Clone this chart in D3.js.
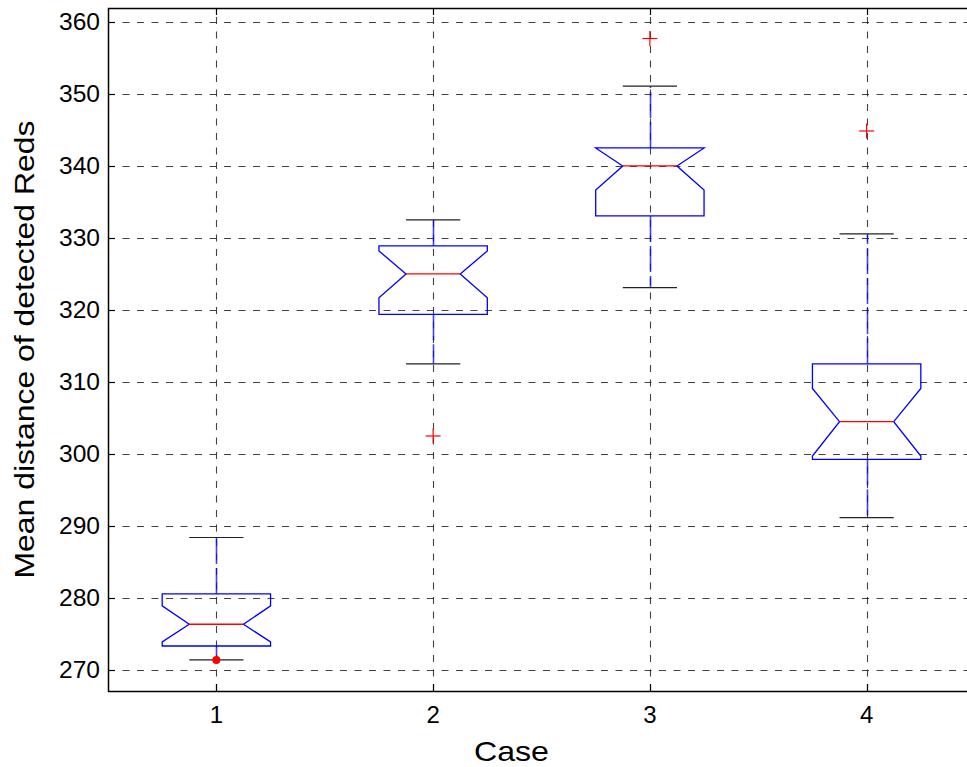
<!DOCTYPE html>
<html><head><meta charset="utf-8">
<script src="https://cdn.jsdelivr.net/npm/d3@7"></script>
<style>html,body{margin:0;padding:0;background:#fff;overflow:hidden}svg{display:block}</style>
</head><body>
<script>
const cases = [1, 2, 3, 4];
const q1 = [273.33, 319.4, 333.06, 299.26];
const q3 = [280.56, 328.89, 342.5, 312.5];
const medians = [276.35, 325.0, 340.0, 304.49];
const notchLo = [273.9, 321.7, 336.67, 299.72];
const notchHi = [278.9, 328.2, 342.5, 309.1];
const whiskerLo = [271.39, 312.5, 323.1, 291.15];
const whiskerHi = [288.4, 332.5, 351.1, 330.56];
const outlierCase = [2, 3, 4];
const outlierValue = [302.5, 357.7, 344.86];
const dotCase = [1];
const dotValue = [271.39];
const yTicks = [270, 280, 290, 300, 310, 320, 330, 340, 350, 360];
const xLabel = "Case";
const yLabel = "Mean distance of detected Reds";

const W = 967, H = 767;
const L = 108, R = 975, T = 8, B = 691;
const svg = d3.select("body").append("svg").attr("width", W).attr("height", H);
const x = d3.scaleLinear().domain([0.5, 4.5]).range([L, R]);
const y = d3.scaleLinear().domain([267.08, 361.94]).range([B, T]);
const font = "'Liberation Sans', Arial, sans-serif";

// grid
const grid = svg.append("g").attr("stroke", "#222").attr("stroke-width", 1.1).attr("stroke-dasharray", "7,7.5").attr("fill", "none");
yTicks.forEach(v => grid.append("line").attr("x1", L).attr("x2", R).attr("y1", Math.round(y(v)) + 0.5).attr("y2", Math.round(y(v)) + 0.5).attr("stroke-opacity", 0.85));
cases.forEach(c => grid.append("line").attr("x1", Math.round(x(c)) + 0.5).attr("x2", Math.round(x(c)) + 0.5).attr("y1", B).attr("y2", T).attr("stroke-opacity", 0.85));

const hw = 0.25, nw = 0.125, cw = 0.125;
const g = svg.append("g");
cases.forEach((c, i) => {
  const xc = Math.round(x(c)) + 0.5;
  // whiskers
  g.append("line").attr("x1", xc).attr("x2", xc).attr("y1", y(q3[i])).attr("y2", y(whiskerHi[i]))
    .attr("stroke", "#0000ff").attr("stroke-opacity", 0.75).attr("stroke-width", 1.6).attr("stroke-dasharray", "26,4");
  g.append("line").attr("x1", xc).attr("x2", xc).attr("y1", y(q1[i])).attr("y2", y(whiskerLo[i]))
    .attr("stroke", "#0000ff").attr("stroke-opacity", 0.75).attr("stroke-width", 1.6).attr("stroke-dasharray", "26,4");
  // caps
  [whiskerHi[i], whiskerLo[i]].forEach(v => {
    g.append("line").attr("x1", x(c - cw)).attr("x2", x(c + cw)).attr("y1", y(v)).attr("y2", y(v))
      .attr("stroke", "#222").attr("stroke-width", 1.2);
  });
  // notched box
  const pts = [
    [c - hw, q3[i]], [c - hw, notchHi[i]], [c - nw, medians[i]], [c - hw, notchLo[i]], [c - hw, q1[i]],
    [c + hw, q1[i]], [c + hw, notchLo[i]], [c + nw, medians[i]], [c + hw, notchHi[i]], [c + hw, q3[i]]
  ].map(p => [x(p[0]), y(p[1])]);
  g.append("path").attr("d", d3.line()(pts) + "Z").attr("fill", "none").attr("stroke", "#0000ff").attr("stroke-width", 1.3);
  // median
  g.append("line").attr("x1", x(c - nw)).attr("x2", x(c + nw)).attr("y1", y(medians[i])).attr("y2", y(medians[i]))
    .attr("stroke", "#ff0000").attr("stroke-width", 1.3);
});
// outliers
outlierCase.forEach((c, i) => {
  const xc = x(c), yc = y(outlierValue[i]), s = 7.5;
  g.append("line").attr("x1", xc - s).attr("x2", xc + s).attr("y1", yc).attr("y2", yc).attr("stroke", "#ff0000").attr("stroke-width", 1.2);
  g.append("line").attr("x1", xc).attr("x2", xc).attr("y1", yc - s).attr("y2", yc + s).attr("stroke", "#ff0000").attr("stroke-width", 1.2);
});
dotCase.forEach((c, i) => {
  g.append("circle").attr("cx", x(c)).attr("cy", y(dotValue[i])).attr("r", 4).attr("fill", "#ff0000");
});

// frame
svg.append("rect").attr("x", L + 0.5).attr("y", T + 0.5).attr("width", R - L).attr("height", B - T)
  .attr("fill", "none").attr("stroke", "#000").attr("stroke-width", 1.5);
// ticks
const tk = svg.append("g").attr("stroke", "#000").attr("stroke-width", 1.2);
yTicks.forEach(v => {
  const yy = Math.round(y(v)) + 0.5;
  tk.append("line").attr("x1", L).attr("x2", L + 7).attr("y1", yy).attr("y2", yy);
  tk.append("line").attr("x1", R - 7).attr("x2", R).attr("y1", yy).attr("y2", yy);
});
cases.forEach(c => {
  const xx = Math.round(x(c)) + 0.5;
  tk.append("line").attr("x1", xx).attr("x2", xx).attr("y1", B).attr("y2", B - 7);
  tk.append("line").attr("x1", xx).attr("x2", xx).attr("y1", T).attr("y2", T + 7);
});
// tick labels
const tl = svg.append("g").attr("font-family", font).attr("font-size", 23).attr("fill", "#000");
yTicks.forEach(v => tl.append("text").attr("x", 100).attr("y", y(v)).attr("dy", "0.36em").attr("text-anchor", "end")
  .attr("textLength", 41).attr("lengthAdjust", "spacingAndGlyphs").text(v));
cases.forEach(c => tl.append("text").attr("x", x(c)).attr("y", 723).attr("text-anchor", "middle").attr("font-size", 24).text(c));
// axis labels
svg.append("text").attr("x", 474).attr("y", 761).attr("font-family", font).attr("font-size", 28)
  .attr("textLength", 75).attr("lengthAdjust", "spacingAndGlyphs").text(xLabel);
svg.append("text").attr("transform", `translate(34,${(T + B) / 2 + 229}) rotate(-90)`)
  .attr("font-family", font).attr("font-size", 27).attr("textLength", 458).attr("lengthAdjust", "spacingAndGlyphs").text(yLabel);
</script>
</body></html>
